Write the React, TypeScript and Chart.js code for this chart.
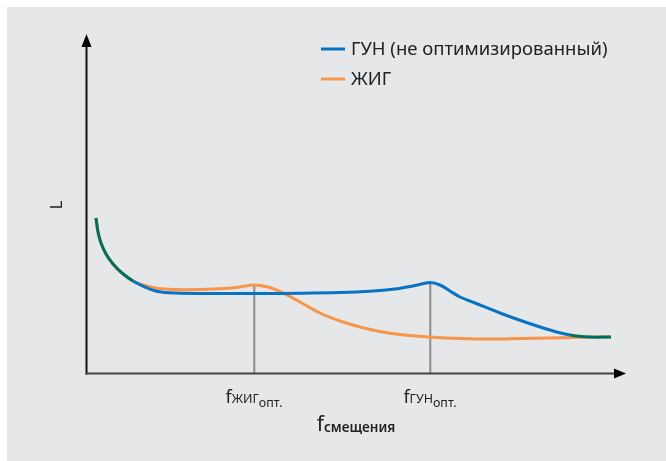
import React, { useEffect, useRef } from "react";
import { Chart, registerables } from "chart.js";

Chart.register(...registerables);

// Schematic curves (arbitrary units: x = frequency offset, y = L)
const blueX = [9, 11, 14, 19, 26, 35, 46, 58, 71, 88, 128, 173, 213, 253, 283, 308, 328, 343, 353, 363, 373, 388, 413, 438, 463, 483, 503, 524];
const blueY = [156, 142, 131, 120, 110, 101, 93, 87, 82.5, 81, 80.5, 80.5, 80.8, 81.5, 82.7, 85, 88.5, 91.5, 89, 83, 77, 71, 61, 52, 44, 39, 37, 37];

const orangeX = [9, 11, 14, 19, 26, 35, 46, 58, 71, 88, 113, 138, 153, 167, 181, 193, 203, 213, 233, 253, 273, 293, 313, 343, 373, 403, 433, 463, 493, 524];
const orangeY = [156, 142, 131, 120, 110, 101, 93, 88.5, 85.5, 84.5, 84.5, 85.5, 87, 89, 87, 82.5, 77.5, 72, 61, 53, 47, 42.5, 39.5, 37, 35.5, 35, 35.5, 36, 36.7, 37];

const seriesLabels = ["ГУН (не оптимизированный)", "ЖИГ"];
const markerX = [167, 343];
const markerY = [89, 91.5];
const markerMain = ["f", "f"];
const markerSub = ["ЖИГ", "ГУН"];
const markerSub2 = ["опт.", "опт."];
const xTitleMain = "f";
const xTitleSub = "смещения";
const yTitle = "L";

const X_MAX = 538;
const Y_MAX = 339;

const BLUE = "#0872c4";
const ORANGE = "#f7964a";
const TEAL = "#006f5f";
const BG = "#e6e7e9";
const TEXT = "#222222";

export default function App() {
  const ref = useRef<HTMLCanvasElement | null>(null);

  useEffect(() => {
    document.body.style.margin = "0";
    const canvas = ref.current;
    if (!canvas) return;

    const decor = {
      id: "decor",
      beforeDraw(chart: any) {
        const { ctx, width, height } = chart;
        ctx.save();
        ctx.fillStyle = "#ffffff";
        ctx.fillRect(0, 0, width, height);
        ctx.fillStyle = BG;
        ctx.fillRect(7, 7, width - 7, height - 7);
        ctx.restore();
      },
      beforeDatasetsDraw(chart: any) {
        const { ctx, chartArea, scales } = chart;
        const xs = scales.x;
        const ys = scales.y;
        const x0 = xs.getPixelForValue(0) - 0.5;
        const y0 = ys.getPixelForValue(0) - 0.5;
        ctx.save();
        // marker lines
        ctx.strokeStyle = "#8c8c8c";
        ctx.lineWidth = 2;
        markerX.forEach((mx, i) => {
          const px = xs.getPixelForValue(mx) + 0.3;
          ctx.beginPath();
          ctx.moveTo(px, ys.getPixelForValue(markerY[i]));
          ctx.lineTo(px, y0);
          ctx.stroke();
        });
        // y axis
        ctx.strokeStyle = "#111111";
        ctx.lineWidth = 2;
        ctx.beginPath();
        ctx.moveTo(x0, y0 + 1);
        ctx.lineTo(x0, chartArea.top + 10);
        ctx.stroke();
        ctx.fillStyle = "#000000";
        ctx.beginPath();
        ctx.moveTo(x0, chartArea.top - 1);
        ctx.lineTo(x0 - 5, chartArea.top + 12);
        ctx.lineTo(x0 + 5, chartArea.top + 12);
        ctx.closePath();
        ctx.fill();
        // x axis
        ctx.strokeStyle = "#444444";
        ctx.beginPath();
        ctx.moveTo(x0 - 1, y0);
        ctx.lineTo(chartArea.right - 10, y0);
        ctx.stroke();
        ctx.beginPath();
        ctx.moveTo(chartArea.right + 1, y0);
        ctx.lineTo(chartArea.right - 11, y0 - 5);
        ctx.lineTo(chartArea.right - 11, y0 + 5);
        ctx.closePath();
        ctx.fill();
        ctx.restore();
      },
      afterDraw(chart: any) {
        const { ctx, chartArea, scales } = chart;
        const xs = scales.x;
        ctx.save();
        // legend
        const colors = [BLUE, ORANGE];
        seriesLabels.forEach((lab, i) => {
          const y = 49 + i * 30;
          ctx.strokeStyle = colors[i];
          ctx.lineWidth = 3;
          ctx.beginPath();
          ctx.moveTo(321, y);
          ctx.lineTo(345, y);
          ctx.stroke();
          ctx.fillStyle = TEXT;
          ctx.font = '18.5px "Noto Sans"';
          ctx.textBaseline = "middle";
          ctx.textAlign = "left";
          ctx.fillText(lab, 351, y + 1);
        });
        // marker tick labels
        ctx.textBaseline = "alphabetic";
        ctx.fillStyle = TEXT;
        markerX.forEach((mx, i) => {
          const cx = xs.getPixelForValue(mx);
          const f1 = '18px "Noto Sans"';
          const f2 = '12.5px "Noto Sans"';
          ctx.font = f1;
          const w1 = ctx.measureText(markerMain[i]).width;
          ctx.font = f2;
          const w2 = ctx.measureText(markerSub[i]).width;
          const w3 = ctx.measureText(markerSub2[i]).width;
          let x = cx - (w1 + w2 + w3) / 2;
          ctx.font = f1;
          ctx.fillText(markerMain[i], x, 403);
          x += w1;
          ctx.font = f2;
          ctx.fillText(markerSub[i], x, 403);
          x += w2;
          ctx.fillText(markerSub2[i], x, 407);
        });
        // x title
        {
          const cx = (chartArea.left + chartArea.right) / 2;
          const f1 = '21px "Noto Sans"';
          const f2 = '600 13.5px "Noto Sans"';
          ctx.font = f1;
          const w1 = ctx.measureText(xTitleMain).width;
          ctx.font = f2;
          const w2 = ctx.measureText(xTitleSub).width;
          let x = cx - (w1 + w2) / 2;
          ctx.font = f1;
          ctx.fillText(xTitleMain, x, 431);
          x += w1;
          ctx.font = f2;
          ctx.fillText(xTitleSub, x, 432);
        }
        // y title
        ctx.translate(57, 205);
        ctx.rotate(-Math.PI / 2);
        ctx.font = '17px "Noto Sans"';
        ctx.textAlign = "center";
        ctx.textBaseline = "middle";
        ctx.fillText(yTitle, 0, 0);
        ctx.restore();
      },
    };

    const chart = new Chart(canvas, {
      type: "line",
      data: {
        datasets: [
          {
            label: seriesLabels[0],
            data: blueX.map((x, i) => ({ x, y: blueY[i] })),
            borderColor: BLUE,
            borderWidth: 3,
            pointRadius: 0,
            tension: 0.35,
            segment: {
              borderColor: (c: any) =>
                c.p1.parsed.x <= 46 || c.p0.parsed.x >= 483 ? TEAL : undefined,
            },
          },
          {
            label: seriesLabels[1],
            data: orangeX.map((x, i) => ({ x, y: orangeY[i] })),
            borderColor: ORANGE,
            borderWidth: 3,
            pointRadius: 0,
            tension: 0.35,
          },
        ],
      },
      options: {
        responsive: false,
        animation: false,
        layout: { padding: { left: 87, right: 41, top: 35, bottom: 87 } },
        plugins: {
          legend: { display: false },
          tooltip: { enabled: false },
        },
        scales: {
          x: { type: "linear", min: 0, max: X_MAX, display: false },
          y: { type: "linear", min: 0, max: Y_MAX, display: false },
        },
      },
      plugins: [decor],
    } as any);

    return () => chart.destroy();
  }, []);

  return <canvas ref={ref} width={666} height={461} style={{ display: "block" }} />;
}
